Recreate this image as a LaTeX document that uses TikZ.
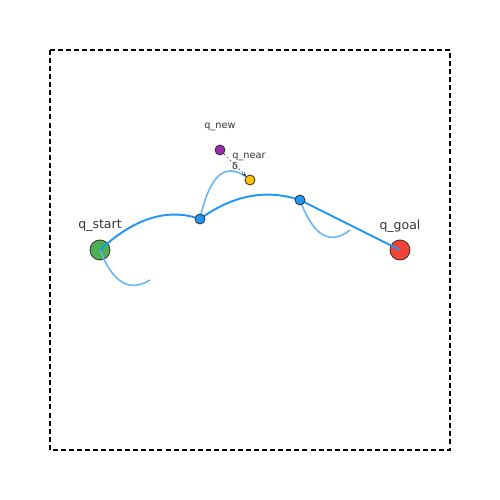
\documentclass[tikz,border=0pt]{standalone}
\usepackage{fontspec}
\setmainfont{DejaVu Sans}
\usetikzlibrary{arrows.meta}
\definecolor{mainblue}{HTML}{2196F3}
\definecolor{lightblue}{HTML}{64B5F6}
\definecolor{startgreen}{HTML}{4CAF50}
\definecolor{goalred}{HTML}{F44336}
\definecolor{nearyellow}{HTML}{FFC107}
\definecolor{newpurple}{HTML}{9C27B0}
\definecolor{edgegray}{HTML}{333333}
\begin{document}
\begin{tikzpicture}[x=0.72pt,y=-0.72pt,
  bigpt/.style={circle,draw=edgegray,line width=0.6pt,minimum size=14.4pt,inner sep=0pt},
  smallpt/.style={circle,draw=edgegray,line width=0.6pt,minimum size=7.2pt,inner sep=0pt},
  lbl/.style={font=\fontsize{9}{10}\selectfont,text=edgegray},
  slbl/.style={font=\fontsize{7}{8}\selectfont,text=edgegray},
  mainpath/.style={mainblue,line width=1.4pt},
  branch/.style={lightblue,line width=1.1pt}]
\useasboundingbox (0,0) rectangle (500,500);
\draw[black,line width=1.1pt,dash pattern=on 3.6pt off 2.2pt] (50,50) rectangle (450,450);
% coordinates
\coordinate (cs) at (100,250);
\coordinate (cg) at (400,250);
\coordinate (c1) at (200,219);
\coordinate (c2) at (300,200);
\coordinate (cn) at (250,180);
\coordinate (cw) at (220,150);
\coordinate (e1) at (150,280);
\coordinate (e2) at (350,230);
% start and goal (drawn below the paths)
\node[bigpt,fill=startgreen] (qs) at (cs) {};
\node[bigpt,fill=goalred] (qg) at (cg) {};
% branches
\draw[branch] (cs) .. controls (112.7,282.7) and (129.3,292.7) .. (e1);
\draw[branch] (c1) .. controls (210,173) and (226.7,160) .. (cn);
\draw[branch] (c2) .. controls (313.3,236) and (330,246) .. (e2);
% main path
\draw[mainpath] (cs) .. controls (134.4,218) and (167.7,207.7) .. (c1);
\draw[mainpath] (c1) .. controls (232.7,195.1) and (266,188.8) .. (c2);
\draw[mainpath] (c2) -- (cg);
% tree nodes
\node[smallpt,fill=mainblue] (w1) at (c1) {};
\node[smallpt,fill=mainblue] (w2) at (c2) {};
\node[smallpt,fill=nearyellow] (qn) at (cn) {};
\node[smallpt,fill=newpurple] (qw) at (cw) {};
\draw[edgegray,line width=0.5pt,dash pattern=on 1.5pt off 1.5pt,-{Stealth[length=3pt,width=2.5pt]}] (qw) -- (qn);
% labels
\node[lbl] (ls) at (100,226) {q\_start};
\node[lbl] (lg) at (400,226) {q\_goal};
\node[slbl] (lw) at (220,127) {q\_new};
\node[slbl] (ln) at (249,157) {q\_near};
\node[slbl] (ld) at (235,166) {δ};
\end{tikzpicture}
\end{document}
